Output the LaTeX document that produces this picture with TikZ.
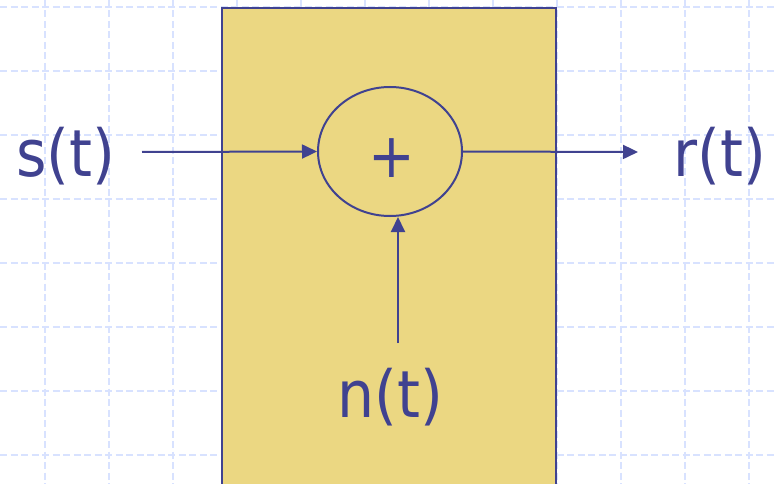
\documentclass[tikz,border=0pt]{standalone}
\usepackage{fontspec}
\setmainfont{DejaVu Sans Condensed}
\usetikzlibrary{arrows.meta,shapes.geometric}
\definecolor{ink}{RGB}{64,66,144}
\definecolor{boxfill}{RGB}{235,215,130}
\definecolor{gridblue}{RGB}{216,226,255}
\begin{document}
\begin{tikzpicture}[x=1pt, y=-1pt, >={Triangle[length=15pt,width=14pt]},
  sig/.style={->, ink, line width=2pt},
  gridline/.style={gridblue, line width=1.6pt, dash pattern=on 7pt off 3.5pt},
  lbl/.style={anchor=base, inner sep=0pt, text=ink, font=\fontsize{65}{72}\selectfont}]
\useasboundingbox (0,0) rectangle (774,484);
\clip (0,0) rectangle (774,484);
% background grid
\foreach \gx in {45,109,...,749}
  \draw[gridline] (\gx,0) -- (\gx,484);
\foreach \gy in {7,71,...,455}
  \draw[gridline] (0,\gy) -- (774,\gy);
% channel box
\draw[ink, line width=2pt, fill=boxfill] (222,8) rectangle (556,500);
% summing junction
\node[ellipse, draw=ink, line width=2pt, minimum width=144pt, minimum height=129pt,
  inner sep=0pt] (sum) at (390,151.5) {};
\node[lbl, anchor=center, font=\fontsize{62}{70}\selectfont] (plus) at (392,158) {+};
% signals
\node[lbl] (st) at (66,177) {s(t)};
\node[lbl] (rt) at (720,177) {r(t)};
\node[lbl] (nt) at (390,417) {n(t)};
\coordinate (sin) at (142,152);
\coordinate (rout) at (638,152);
\coordinate (nin) at (398,343);
% connections
\draw[sig] (sin) -- (sum.west);
\draw[sig] (sum.east) -- (rout);
\draw[sig] (nin) -- (nin |- sum.south);
\end{tikzpicture}
\end{document}
